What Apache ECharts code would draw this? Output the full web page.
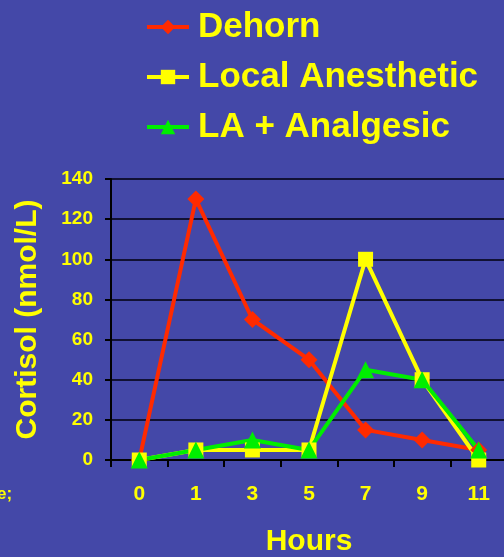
<!DOCTYPE html>
<html>
<head>
<meta charset="utf-8">
<script src="https://cdn.jsdelivr.net/npm/echarts@6/dist/echarts.min.js"></script>
<style>
  html, body { margin: 0; padding: 0; background: #4448a8; }
  #chart { width: 504px; height: 557px; }
</style>
</head>
<body>
<div id="chart"></div>
<script>
const hours = ['0', '1', '3', '5', '7', '9', '11'];
const dehorn = [0, 130, 70, 50, 15, 10, 5];
const localAnesthetic = [0, 5, 5, 5, 100, 40, 0];
const laAnalgesic = [0, 5, 10, 5, 45, 40, 5];

const chart = echarts.init(document.getElementById('chart'));
const font = '"Liberation Sans", Arial, sans-serif';

chart.setOption({
  backgroundColor: '#4448a8',
  animation: false,
  legend: {
    orient: 'vertical', left: 145, top: 9, padding: 0,
    itemWidth: 42, itemHeight: 18, itemGap: 14,
    lineStyle: { width: 4 },
    textStyle: { color: '#ffff00', fontSize: 35, fontWeight: 'bold', fontFamily: font, lineHeight: 36, padding: [0, 0, 0, 4] },
    data: ['Dehorn', 'Local Anesthetic', 'LA + Analgesic'],
  },
  grid: { left: 111, top: 179, width: 396, bottom: 97, outerBoundsMode: 'none' },
  xAxis: {
    type: 'category', data: hours, boundaryGap: true,
    name: 'Hours', nameLocation: 'middle', nameGap: 67,
    nameTextStyle: { color: '#ffff00', fontSize: 30, fontWeight: 'bold', fontFamily: font },
    axisLine: { lineStyle: { color: '#000', width: 2 } },
    axisTick: { show: true, length: 7, lineStyle: { color: '#000', width: 2 } },
    axisLabel: { color: '#ffff00', fontSize: 21, fontWeight: 'bold', fontFamily: font, margin: 24 },
  },
  yAxis: {
    type: 'value', min: 0, max: 140, interval: 20,
    name: 'Cortisol (nmol/L)', nameLocation: 'middle', nameGap: 68, nameRotate: 90,
    nameTextStyle: { color: '#ffff00', fontSize: 30, fontWeight: 'bold', fontFamily: font },
    axisLine: { show: true, lineStyle: { color: '#000', width: 2 } },
    axisTick: { show: true, length: 6, lineStyle: { color: '#000', width: 2 } },
    axisLabel: { color: '#ffff00', fontSize: 19, fontWeight: 'bold', fontFamily: font, margin: 18 },
    splitLine: { lineStyle: { color: '#111133', width: 2 } },
  },
  graphic: [{
    type: 'text', left: -3, top: 486,
    style: { text: 'e;', fill: '#ffff00', font: 'bold 17px ' + font },
  }],
  series: [
    {
      name: 'Dehorn', type: 'line', data: dehorn,
      symbol: 'diamond', symbolSize: 17,
      lineStyle: { color: '#ff2a00', width: 4 },
      itemStyle: { color: '#ff2a00' },
    },
    {
      name: 'Local Anesthetic', type: 'line', data: localAnesthetic,
      symbol: 'rect', symbolSize: 15,
      lineStyle: { color: '#ffff00', width: 4 },
      itemStyle: { color: '#ffff00' },
    },
    {
      name: 'LA + Analgesic', type: 'line', data: laAnalgesic,
      symbol: 'triangle', symbolSize: 17,
      lineStyle: { color: '#00ee00', width: 4 },
      itemStyle: { color: '#00ee00' },
    },
  ],
});
</script>
</body>
</html>
